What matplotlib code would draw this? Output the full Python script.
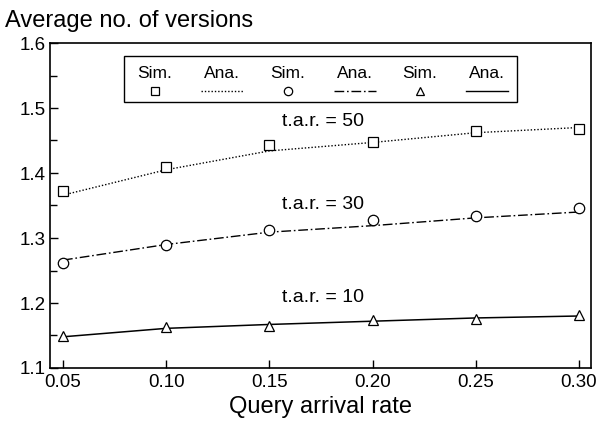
import matplotlib
matplotlib.use('Agg')
import matplotlib.pyplot as plt
from matplotlib.patches import Rectangle
from matplotlib.lines import Line2D
from matplotlib.ticker import MultipleLocator, FormatStrFormatter

plt.rcParams['font.family'] = ['Liberation Sans', 'DejaVu Sans']

# ── 数据─────────────────────────────────────
rate = [0.05, 0.10, 0.15, 0.20, 0.25, 0.30]
sim_50 = [1.372, 1.410, 1.443, 1.447, 1.465, 1.467]
ana_50 = [1.366, 1.405, 1.434, 1.447, 1.462, 1.470]
sim_30 = [1.261, 1.290, 1.313, 1.327, 1.334, 1.346]
ana_30 = [1.266, 1.290, 1.309, 1.319, 1.331, 1.340]
sim_10 = [1.150, 1.163, 1.165, 1.174, 1.176, 1.182]
ana_10 = [1.148, 1.161, 1.167, 1.172, 1.177, 1.180]
tar_labels = ['t.a.r. = 50', 't.a.r. = 30', 't.a.r. = 10']
tar_pos = [1.480, 1.352, 1.208]

C = 'black'
DOTS = (0, (1, 1.4))
DASHDOT = (0, (7, 2, 1.2, 2))

fig = plt.figure(figsize=(6.05, 4.32), dpi=100)
ax = fig.add_axes([50/605, 1 - 368/432, 541/605, 325/432])

mk = dict(color=C, mfc='white', mec=C, ms=7.5, mew=0.9, ls='none', zorder=3)
ax.plot(rate, ana_50, color=C, lw=1.0, ls=DOTS, zorder=2)
ax.plot(rate, ana_30, color=C, lw=1.0, ls=DASHDOT, zorder=2)
ax.plot(rate, ana_10, color=C, lw=1.1, ls='-', zorder=2)
ax.plot(rate, sim_50, marker='s', **mk)
ax.plot(rate, sim_30, marker='o', **mk)
ax.plot(rate, sim_10, marker='^', **mk)

for lab, yv in zip(tar_labels, tar_pos):
    ax.text(0.176, yv, lab, ha='center', va='center', fontsize=14)

ax.set_xlim(0.0437, 0.3058)
ax.set_ylim(1.1, 1.6)
ax.xaxis.set_major_locator(MultipleLocator(0.05))
ax.xaxis.set_major_formatter(FormatStrFormatter('%.2f'))
ax.yaxis.set_major_locator(MultipleLocator(0.1))
ax.yaxis.set_minor_locator(MultipleLocator(0.05))
ax.yaxis.set_major_formatter(FormatStrFormatter('%.1f'))
ax.tick_params(axis='both', which='both', direction='in', labelsize=13.5,
               width=1.0, color=C)
ax.tick_params(axis='both', which='major', length=6)
ax.tick_params(axis='y', which='minor', length=5)
ax.tick_params(axis='x', pad=4)
ax.tick_params(axis='y', pad=3)
for s in ax.spines.values():
    s.set_linewidth(1.2)

ax.set_xlabel('Query arrival rate', fontsize=17, labelpad=4)
fig.text(5/605, 1 - 21/432, 'Average no. of versions', fontsize=17,
         ha='left', va='center')

# ── 图例（标签在上，样例在下）──────────────────────
ax.add_patch(Rectangle((0.137, 0.818), 0.726, 0.142, transform=ax.transAxes,
                       fill=False, ec=C, lw=1.0, zorder=4))
leg_x = [0.194, 0.318, 0.440, 0.564, 0.684, 0.808]
leg_txt = ['Sim.', 'Ana.', 'Sim.', 'Ana.', 'Sim.', 'Ana.']
for xc, t in zip(leg_x, leg_txt):
    ax.text(xc, 0.905, t, transform=ax.transAxes, ha='center', va='center',
            fontsize=12.5, family=['Liberation Sans Narrow', 'Liberation Sans'])
for xc, m in zip(leg_x[0::2], ['s', 'o', '^']):
    ax.add_line(Line2D([xc], [0.852], transform=ax.transAxes, marker=m,
                       mfc='white', mec=C, ms=6, mew=0.9, ls='none'))
for xc, ls in zip(leg_x[1::2], [DOTS, DASHDOT, '-']):
    ax.add_line(Line2D([xc - 0.039, xc + 0.039], [0.852, 0.852],
                       transform=ax.transAxes, color=C, lw=1.0, ls=ls))

fig.savefig('out.png', dpi=100, facecolor='white')
